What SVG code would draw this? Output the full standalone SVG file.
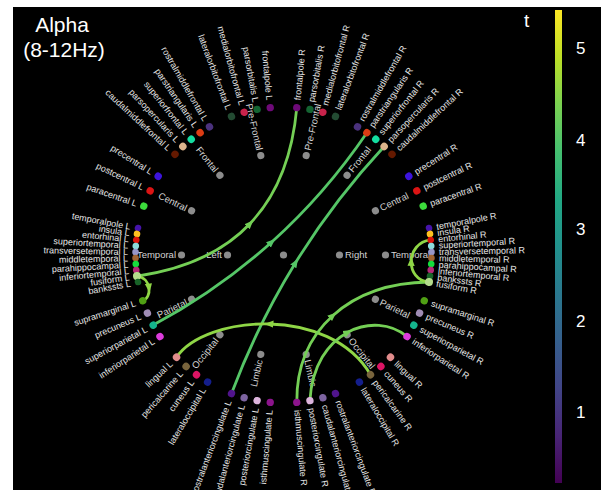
<svg xmlns="http://www.w3.org/2000/svg" width="601" height="490" viewBox="0 0 601 490">
<defs>
<linearGradient id="viridis" x1="0" y1="1" x2="0" y2="0">
<stop offset="0" stop-color="#440154"/><stop offset="0.1" stop-color="#482475"/><stop offset="0.2" stop-color="#414487"/><stop offset="0.3" stop-color="#355f8d"/><stop offset="0.4" stop-color="#2a788e"/><stop offset="0.5" stop-color="#21918c"/><stop offset="0.6" stop-color="#22a884"/><stop offset="0.7" stop-color="#44bf70"/><stop offset="0.8" stop-color="#7ad151"/><stop offset="0.9" stop-color="#bddf26"/><stop offset="1" stop-color="#fde725"/>
</linearGradient>
<marker id="arT" viewBox="0 0 10 10" refX="5" refY="5" markerWidth="9" markerHeight="9" markerUnits="userSpaceOnUse" orient="auto"><path d="M0,1 L10,5 L0,9 z" fill="#55c667"/></marker>
<marker id="arG" viewBox="0 0 10 10" refX="5" refY="5" markerWidth="9" markerHeight="9" markerUnits="userSpaceOnUse" orient="auto"><path d="M0,1 L10,5 L0,9 z" fill="#74cf55"/></marker>
<marker id="arY" viewBox="0 0 10 10" refX="5" refY="5" markerWidth="9" markerHeight="9" markerUnits="userSpaceOnUse" orient="auto"><path d="M0,1 L10,5 L0,9 z" fill="#8fd646"/></marker>
<style>
text { font-family: "Liberation Sans", Arial, sans-serif; }
.lbl { font-size: 9px; fill: #e6e6e6; }
.e { text-anchor: end; }
.lobe circle { fill: #8c8c8c; }
.lobe text { font-size: 9.5px; fill: #d4d4d4; }
.edge { fill: none; stroke-width: 2.8; stroke-linecap: round; }
.t { stroke: #55c667; marker-mid: url(#arT); }
.g { stroke: #74cf55; marker-mid: url(#arG); }
.y { stroke: #8fd646; marker-mid: url(#arY); }
.title { font-size: 21px; fill: #ffffff; text-anchor: middle; }
.tick { font-size: 17px; fill: #ffffff; }
.c-frontalpole{fill:#6e0a78}.c-parsorbitalis{fill:#146432}.c-medialorbitofrontal{fill:#c8234b}.c-lateralorbitofrontal{fill:#234b32}
.c-rostralmiddlefrontal{fill:#4b327d}.c-parstriangularis{fill:#dc3c14}.c-superiorfrontal{fill:#14dca0}.c-parsopercularis{fill:#dcb48c}.c-caudalmiddlefrontal{fill:#641900}
.c-precentral{fill:#3c14dc}.c-postcentral{fill:#dc1414}.c-paracentral{fill:#3cdc3c}
.c-temporalpole{fill:#4614aa}.c-insula{fill:#ffc020}.c-entorhinal{fill:#dc140a}.c-superiortemporal{fill:#8cdcdc}.c-transversetemporal{fill:#9696c8}.c-middletemporal{fill:#a06432}.c-parahippocampal{fill:#14dc3c}.c-inferiortemporal{fill:#b42878}.c-fusiform{fill:#b4dc8c}.c-bankssts{fill:#196428}
.c-supramarginal{fill:#50a014}.c-precuneus{fill:#a08cb4}.c-superiorparietal{fill:#14b48c}.c-inferiorparietal{fill:#dc3cdc}
.c-lingual{fill:#e18c8c}.c-pericalcarine{fill:#78643c}.c-cuneus{fill:#dc1464}.c-lateraloccipital{fill:#141e8c}
.c-rostralanteriorcingulate{fill:#50148c}.c-caudalanteriorcingulate{fill:#7d64a0}.c-posteriorcingulate{fill:#dcb4dc}.c-isthmuscingulate{fill:#8c148c}
</style>
</defs>
<rect x="0" y="0" width="601" height="490" fill="#ffffff"/>
<rect x="13" y="7" width="588" height="483" fill="#000000"/>
<text class="title" x="62" y="32">Alpha</text>
<text class="title" x="64" y="57">(8-12Hz)</text>
<g id="colorbar">
<rect x="555" y="10" width="7" height="473" fill="url(#viridis)"/>
<text x="524" y="27" style="font-size:19px;fill:#fff">t</text>
<text class="tick" x="576" y="54">5</text>
<text class="tick" x="576" y="146">4</text>
<text class="tick" x="576" y="235">3</text>
<text class="tick" x="576" y="327">2</text>
<text class="tick" x="576" y="418">1</text>
</g>
<g id="lobes" class="lobe">
<g id="center"><circle cx="283.5" cy="255" r="3.6"/></g>
<g id="Left"><circle cx="227.5" cy="255" r="3.6"/><text class="e" x="222" y="255" dy="0.35em">Left</text></g>
<g id="Right"><circle cx="339.5" cy="255" r="3.6"/><text x="345" y="255" dy="0.35em">Right</text></g>
<g id="Temporal-L"><circle cx="181.5" cy="255" r="3.6"/><text class="e" x="176" y="255" dy="0.35em">Temporal</text></g>
<g id="Central-L" transform="rotate(25.714 283.5 255)"><circle cx="181.5" cy="255" r="3.6"/><text class="e" x="176" y="255" dy="0.35em">Central</text></g>
<g id="Frontal-L" transform="rotate(51.429 283.5 255)"><circle cx="181.5" cy="255" r="3.6"/><text class="e" x="176" y="255" dy="0.35em">Frontal</text></g>
<g id="PreFrontal-L" transform="rotate(77.143 283.5 255)"><circle cx="181.5" cy="255" r="3.6"/><text class="e" x="176" y="255" dy="0.35em">Pre-Frontal</text></g>
<g id="Parietal-L" transform="rotate(-25.714 283.5 255)"><circle cx="181.5" cy="255" r="3.6"/><text class="e" x="176" y="255" dy="0.35em">Parietal</text></g>
<g id="Occipital-L" transform="rotate(-51.429 283.5 255)"><circle cx="181.5" cy="255" r="3.6"/><text class="e" x="176" y="255" dy="0.35em">Occipital</text></g>
<g id="Limbic-L" transform="rotate(-77.143 283.5 255)"><circle cx="181.5" cy="255" r="3.6"/><text class="e" x="176" y="255" dy="0.35em">Limbic</text></g>
<g id="Temporal-R"><circle cx="385.5" cy="255" r="3.6"/><text x="391" y="255" dy="0.35em">Temporal</text></g>
<g id="Central-R" transform="rotate(-25.714 283.5 255)"><circle cx="385.5" cy="255" r="3.6"/><text x="391" y="255" dy="0.35em">Central</text></g>
<g id="Frontal-R" transform="rotate(-51.429 283.5 255)"><circle cx="385.5" cy="255" r="3.6"/><text x="391" y="255" dy="0.35em">Frontal</text></g>
<g id="PreFrontal-R" transform="rotate(-77.143 283.5 255)"><circle cx="385.5" cy="255" r="3.6"/><text x="391" y="255" dy="0.35em">Pre-Frontal</text></g>
<g id="Parietal-R" transform="rotate(25.714 283.5 255)"><circle cx="385.5" cy="255" r="3.6"/><text x="391" y="255" dy="0.35em">Parietal</text></g>
<g id="Occipital-R" transform="rotate(51.429 283.5 255)"><circle cx="385.5" cy="255" r="3.6"/><text x="391" y="255" dy="0.35em">Occipital</text></g>
<g id="Limbic-R" transform="rotate(77.143 283.5 255)"><circle cx="385.5" cy="255" r="3.6"/><text x="391" y="255" dy="0.35em">Limbic</text></g>
</g>
<g id="connectors">
<path class="edge g" d="M137,276.1 Q210.25,265.55 250.2,223.43 Q290.15,181.3 296.8,107.6"/>
<path class="edge t" d="M153.2,325.1 Q218.35,290.05 271.78,241.95 Q325.2,193.85 366.9,132.7"/>
<path class="edge t" d="M231.5,393.6 Q257.5,324.3 295.65,262.53 Q333.8,200.75 384.1,146.5"/>
<path class="edge y" d="M370.5,374.7 C350.25,339.85 308.88,324.93 269,324 C229.13,323.08 190.75,336.15 176.5,357.3"/>
<path class="edge g" d="M296.8,402.4 C296.4,366.2 309.7,336.35 332.98,315.43 C356.25,294.5 389.5,282.5 429,282"/>
<path class="edge g" d="M309.9,400.6 C311.95,365.3 328.23,342.65 347.99,332.14 C367.75,321.63 391,323.25 407,336.5"/>
<path class="edge y" d="M137,276.1 C144.5,277.05 148.25,282.53 148.96,288.1 C149.68,293.68 147.35,299.35 142.7,300.7"/>
<path class="edge y" d="M429,282 C417,281 411,271.25 411.21,261.36 C411.43,251.48 417.85,241.45 430.7,239.9"/>
</g>
<g id="nodes-left" class="lbl">
<g id="frontalpole-L" transform="rotate(84.857 283.5 255)"><circle class="c-frontalpole" cx="135.5" cy="255" r="3.7"/><text class="e" x="128" y="255" dy="0.35em">frontalpole L</text></g>
<g id="parsorbitalis-L" transform="rotate(79.714 283.5 255)"><circle class="c-parsorbitalis" cx="135.5" cy="255" r="3.7"/><text class="e" x="128" y="255" dy="0.35em">parsorbitalis L</text></g>
<g id="medialorbitofrontal-L" transform="rotate(74.571 283.5 255)"><circle class="c-medialorbitofrontal" cx="135.5" cy="255" r="3.7"/><text class="e" x="128" y="255" dy="0.35em">medialorbitofrontal L</text></g>
<g id="lateralorbitofrontal-L" transform="rotate(69.429 283.5 255)"><circle class="c-lateralorbitofrontal" cx="135.5" cy="255" r="3.7"/><text class="e" x="128" y="255" dy="0.35em">lateralorbitofrontal L</text></g>
<g id="rostralmiddlefrontal-L" transform="rotate(60 283.5 255)"><circle class="c-rostralmiddlefrontal" cx="135.5" cy="255" r="3.7"/><text class="e" x="128" y="255" dy="0.35em">rostralmiddlefrontal L</text></g>
<g id="parstriangularis-L" transform="rotate(55.714 283.5 255)"><circle class="c-parstriangularis" cx="135.5" cy="255" r="3.7"/><text class="e" x="128" y="255" dy="0.35em">parstriangularis L</text></g>
<g id="superiorfrontal-L" transform="rotate(51.429 283.5 255)"><circle class="c-superiorfrontal" cx="135.5" cy="255" r="3.7"/><text class="e" x="128" y="255" dy="0.35em">superiorfrontal L</text></g>
<g id="parsopercularis-L" transform="rotate(47.143 283.5 255)"><circle class="c-parsopercularis" cx="135.5" cy="255" r="3.7"/><text class="e" x="128" y="255" dy="0.35em">parsopercularis L</text></g>
<g id="caudalmiddlefrontal-L" transform="rotate(42.857 283.5 255)"><circle class="c-caudalmiddlefrontal" cx="135.5" cy="255" r="3.7"/><text class="e" x="128" y="255" dy="0.35em">caudalmiddlefrontal L</text></g>
<g id="precentral-L" transform="rotate(32.143 283.5 255)"><circle class="c-precentral" cx="135.5" cy="255" r="3.7"/><text class="e" x="128" y="255" dy="0.35em">precentral L</text></g>
<g id="postcentral-L" transform="rotate(25.714 283.5 255)"><circle class="c-postcentral" cx="135.5" cy="255" r="3.7"/><text class="e" x="128" y="255" dy="0.35em">postcentral L</text></g>
<g id="paracentral-L" transform="rotate(19.286 283.5 255)"><circle class="c-paracentral" cx="135.5" cy="255" r="3.7"/><text class="e" x="128" y="255" dy="0.35em">paracentral L</text></g>
<g id="temporalpole-L" transform="rotate(10.52 283.5 255)"><circle class="c-temporalpole" cx="135.5" cy="255" r="3.3"/><text class="e" x="128" y="255" dy="0.35em">temporalpole L</text></g>
<g id="insula-L" transform="rotate(8.18 283.5 255)"><circle class="c-insula" cx="135.5" cy="255" r="3.3"/><text class="e" x="128" y="255" dy="0.35em">insula L</text></g>
<g id="entorhinal-L" transform="rotate(5.84 283.5 255)"><circle class="c-entorhinal" cx="135.5" cy="255" r="3.3"/><text class="e" x="128" y="255" dy="0.35em">entorhinal L</text></g>
<g id="superiortemporal-L" transform="rotate(3.51 283.5 255)"><circle class="c-superiortemporal" cx="135.5" cy="255" r="3.3"/><text class="e" x="128" y="255" dy="0.35em">superiortemporal L</text></g>
<g id="transversetemporal-L" transform="rotate(1.17 283.5 255)"><circle class="c-transversetemporal" cx="135.5" cy="255" r="3.3"/><text class="e" x="128" y="255" dy="0.35em">transversetemporal L</text></g>
<g id="middletemporal-L" transform="rotate(-1.17 283.5 255)"><circle class="c-middletemporal" cx="135.5" cy="255" r="3.3"/><text class="e" x="128" y="255" dy="0.35em">middletemporal L</text></g>
<g id="parahippocampal-L" transform="rotate(-3.51 283.5 255)"><circle class="c-parahippocampal" cx="135.5" cy="255" r="3.3"/><text class="e" x="128" y="255" dy="0.35em">parahippocampal L</text></g>
<g id="inferiortemporal-L" transform="rotate(-5.84 283.5 255)"><circle class="c-inferiortemporal" cx="135.5" cy="255" r="3.3"/><text class="e" x="128" y="255" dy="0.35em">inferiortemporal L</text></g>
<g id="fusiform-L" transform="rotate(-8.18 283.5 255)"><circle class="c-fusiform" cx="135.5" cy="255" r="4"/><text class="e" x="128" y="255" dy="0.35em">fusiform L</text></g>
<g id="bankssts-L" transform="rotate(-10.52 283.5 255)"><circle class="c-bankssts" cx="135.5" cy="255" r="3.3"/><text class="e" x="128" y="255" dy="0.35em">bankssts L</text></g>
<g id="supramarginal-L" transform="rotate(-18 283.5 255)"><circle class="c-supramarginal" cx="135.5" cy="255" r="3.7"/><text class="e" x="128" y="255" dy="0.35em">supramarginal L</text></g>
<g id="precuneus-L" transform="rotate(-23.143 283.5 255)"><circle class="c-precuneus" cx="135.5" cy="255" r="3.7"/><text class="e" x="128" y="255" dy="0.35em">precuneus L</text></g>
<g id="superiorparietal-L" transform="rotate(-28.286 283.5 255)"><circle class="c-superiorparietal" cx="135.5" cy="255" r="3.7"/><text class="e" x="128" y="255" dy="0.35em">superiorparietal L</text></g>
<g id="inferiorparietal-L" transform="rotate(-33.429 283.5 255)"><circle class="c-inferiorparietal" cx="135.5" cy="255" r="3.7"/><text class="e" x="128" y="255" dy="0.35em">inferiorparietal L</text></g>
<g id="lingual-L" transform="rotate(-43.714 283.5 255)"><circle class="c-lingual" cx="135.5" cy="255" r="3.7"/><text class="e" x="128" y="255" dy="0.35em">lingual L</text></g>
<g id="pericalcarine-L" transform="rotate(-48.857 283.5 255)"><circle class="c-pericalcarine" cx="135.5" cy="255" r="3.7"/><text class="e" x="128" y="255" dy="0.35em">pericalcarine L</text></g>
<g id="cuneus-L" transform="rotate(-54 283.5 255)"><circle class="c-cuneus" cx="135.5" cy="255" r="3.7"/><text class="e" x="128" y="255" dy="0.35em">cuneus L</text></g>
<g id="lateraloccipital-L" transform="rotate(-59.143 283.5 255)"><circle class="c-lateraloccipital" cx="135.5" cy="255" r="3.7"/><text class="e" x="128" y="255" dy="0.35em">lateraloccipital L</text></g>
<g id="rostralanteriorcingulate-L" transform="rotate(-69.429 283.5 255)"><circle class="c-rostralanteriorcingulate" cx="135.5" cy="255" r="3.7"/><text class="e" x="128" y="255" dy="0.35em">rostralanteriorcingulate L</text></g>
<g id="caudalanteriorcingulate-L" transform="rotate(-74.571 283.5 255)"><circle class="c-caudalanteriorcingulate" cx="135.5" cy="255" r="3.7"/><text class="e" x="128" y="255" dy="0.35em">caudalanteriorcingulate L</text></g>
<g id="posteriorcingulate-L" transform="rotate(-79.714 283.5 255)"><circle class="c-posteriorcingulate" cx="135.5" cy="255" r="3.7"/><text class="e" x="128" y="255" dy="0.35em">posteriorcingulate L</text></g>
<g id="isthmuscingulate-L" transform="rotate(-84.857 283.5 255)"><circle class="c-isthmuscingulate" cx="135.5" cy="255" r="3.7"/><text class="e" x="128" y="255" dy="0.35em">isthmuscingulate L</text></g>
</g>
<g id="nodes-right" class="lbl">
<g id="frontalpole-R" transform="rotate(-84.857 283.5 255)"><circle class="c-frontalpole" cx="431.5" cy="255" r="3.7"/><text x="439" y="255" dy="0.35em">frontalpole R</text></g>
<g id="parsorbitalis-R" transform="rotate(-79.714 283.5 255)"><circle class="c-parsorbitalis" cx="431.5" cy="255" r="3.7"/><text x="439" y="255" dy="0.35em">parsorbitalis R</text></g>
<g id="medialorbitofrontal-R" transform="rotate(-74.571 283.5 255)"><circle class="c-medialorbitofrontal" cx="431.5" cy="255" r="3.7"/><text x="439" y="255" dy="0.35em">medialorbitofrontal R</text></g>
<g id="lateralorbitofrontal-R" transform="rotate(-69.429 283.5 255)"><circle class="c-lateralorbitofrontal" cx="431.5" cy="255" r="3.7"/><text x="439" y="255" dy="0.35em">lateralorbitofrontal R</text></g>
<g id="rostralmiddlefrontal-R" transform="rotate(-60 283.5 255)"><circle class="c-rostralmiddlefrontal" cx="431.5" cy="255" r="3.7"/><text x="439" y="255" dy="0.35em">rostralmiddlefrontal R</text></g>
<g id="parstriangularis-R" transform="rotate(-55.714 283.5 255)"><circle class="c-parstriangularis" cx="431.5" cy="255" r="3.7"/><text x="439" y="255" dy="0.35em">parstriangularis R</text></g>
<g id="superiorfrontal-R" transform="rotate(-51.429 283.5 255)"><circle class="c-superiorfrontal" cx="431.5" cy="255" r="3.7"/><text x="439" y="255" dy="0.35em">superiorfrontal R</text></g>
<g id="parsopercularis-R" transform="rotate(-47.143 283.5 255)"><circle class="c-parsopercularis" cx="431.5" cy="255" r="3.7"/><text x="439" y="255" dy="0.35em">parsopercularis R</text></g>
<g id="caudalmiddlefrontal-R" transform="rotate(-42.857 283.5 255)"><circle class="c-caudalmiddlefrontal" cx="431.5" cy="255" r="3.7"/><text x="439" y="255" dy="0.35em">caudalmiddlefrontal R</text></g>
<g id="precentral-R" transform="rotate(-32.143 283.5 255)"><circle class="c-precentral" cx="431.5" cy="255" r="3.7"/><text x="439" y="255" dy="0.35em">precentral R</text></g>
<g id="postcentral-R" transform="rotate(-25.714 283.5 255)"><circle class="c-postcentral" cx="431.5" cy="255" r="3.7"/><text x="439" y="255" dy="0.35em">postcentral R</text></g>
<g id="paracentral-R" transform="rotate(-19.286 283.5 255)"><circle class="c-paracentral" cx="431.5" cy="255" r="3.7"/><text x="439" y="255" dy="0.35em">paracentral R</text></g>
<g id="temporalpole-R" transform="rotate(-10.52 283.5 255)"><circle class="c-temporalpole" cx="431.5" cy="255" r="3.3"/><text x="439" y="255" dy="0.35em">temporalpole R</text></g>
<g id="insula-R" transform="rotate(-8.18 283.5 255)"><circle class="c-insula" cx="431.5" cy="255" r="3.3"/><text x="439" y="255" dy="0.35em">insula R</text></g>
<g id="entorhinal-R" transform="rotate(-5.84 283.5 255)"><circle class="c-entorhinal" cx="431.5" cy="255" r="3.3"/><text x="439" y="255" dy="0.35em">entorhinal R</text></g>
<g id="superiortemporal-R" transform="rotate(-3.51 283.5 255)"><circle class="c-superiortemporal" cx="431.5" cy="255" r="3.3"/><text x="439" y="255" dy="0.35em">superiortemporal R</text></g>
<g id="transversetemporal-R" transform="rotate(-1.17 283.5 255)"><circle class="c-transversetemporal" cx="431.5" cy="255" r="3.3"/><text x="439" y="255" dy="0.35em">transversetemporal R</text></g>
<g id="middletemporal-R" transform="rotate(1.17 283.5 255)"><circle class="c-middletemporal" cx="431.5" cy="255" r="3.3"/><text x="439" y="255" dy="0.35em">middletemporal R</text></g>
<g id="parahippocampal-R" transform="rotate(3.51 283.5 255)"><circle class="c-parahippocampal" cx="431.5" cy="255" r="3.3"/><text x="439" y="255" dy="0.35em">parahippocampal R</text></g>
<g id="inferiortemporal-R" transform="rotate(5.84 283.5 255)"><circle class="c-inferiortemporal" cx="431.5" cy="255" r="3.3"/><text x="439" y="255" dy="0.35em">inferiortemporal R</text></g>
<g id="bankssts-R" transform="rotate(8.18 283.5 255)"><circle class="c-bankssts" cx="431.5" cy="255" r="3.3"/><text x="439" y="255" dy="0.35em">bankssts R</text></g>
<g id="fusiform-R" transform="rotate(10.52 283.5 255)"><circle class="c-fusiform" cx="431.5" cy="255" r="4"/><text x="439" y="255" dy="0.35em">fusiform R</text></g>
<g id="supramarginal-R" transform="rotate(18 283.5 255)"><circle class="c-supramarginal" cx="431.5" cy="255" r="3.7"/><text x="439" y="255" dy="0.35em">supramarginal R</text></g>
<g id="precuneus-R" transform="rotate(23.143 283.5 255)"><circle class="c-precuneus" cx="431.5" cy="255" r="3.7"/><text x="439" y="255" dy="0.35em">precuneus R</text></g>
<g id="superiorparietal-R" transform="rotate(28.286 283.5 255)"><circle class="c-superiorparietal" cx="431.5" cy="255" r="3.7"/><text x="439" y="255" dy="0.35em">superiorparietal R</text></g>
<g id="inferiorparietal-R" transform="rotate(33.429 283.5 255)"><circle class="c-inferiorparietal" cx="431.5" cy="255" r="3.7"/><text x="439" y="255" dy="0.35em">inferiorparietal R</text></g>
<g id="lingual-R" transform="rotate(43.714 283.5 255)"><circle class="c-lingual" cx="431.5" cy="255" r="3.7"/><text x="439" y="255" dy="0.35em">lingual R</text></g>
<g id="cuneus-R" transform="rotate(48.857 283.5 255)"><circle class="c-cuneus" cx="431.5" cy="255" r="3.7"/><text x="439" y="255" dy="0.35em">cuneus R</text></g>
<g id="pericalcarine-R" transform="rotate(54 283.5 255)"><circle class="c-pericalcarine" cx="431.5" cy="255" r="3.7"/><text x="439" y="255" dy="0.35em">pericalcarine R</text></g>
<g id="lateraloccipital-R" transform="rotate(59.143 283.5 255)"><circle class="c-lateraloccipital" cx="431.5" cy="255" r="3.7"/><text x="439" y="255" dy="0.35em">lateraloccipital R</text></g>
<g id="rostralanteriorcingulate-R" transform="rotate(69.429 283.5 255)"><circle class="c-rostralanteriorcingulate" cx="431.5" cy="255" r="3.7"/><text x="439" y="255" dy="0.35em">rostralanteriorcingulate R</text></g>
<g id="caudalanteriorcingulate-R" transform="rotate(74.571 283.5 255)"><circle class="c-caudalanteriorcingulate" cx="431.5" cy="255" r="3.7"/><text x="439" y="255" dy="0.35em">caudalanteriorcingulate R</text></g>
<g id="posteriorcingulate-R" transform="rotate(79.714 283.5 255)"><circle class="c-posteriorcingulate" cx="431.5" cy="255" r="3.7"/><text x="439" y="255" dy="0.35em">posteriorcingulate R</text></g>
<g id="isthmuscingulate-R" transform="rotate(84.857 283.5 255)"><circle class="c-isthmuscingulate" cx="431.5" cy="255" r="3.7"/><text x="439" y="255" dy="0.35em">isthmuscingulate R</text></g>
</g>
</svg>
